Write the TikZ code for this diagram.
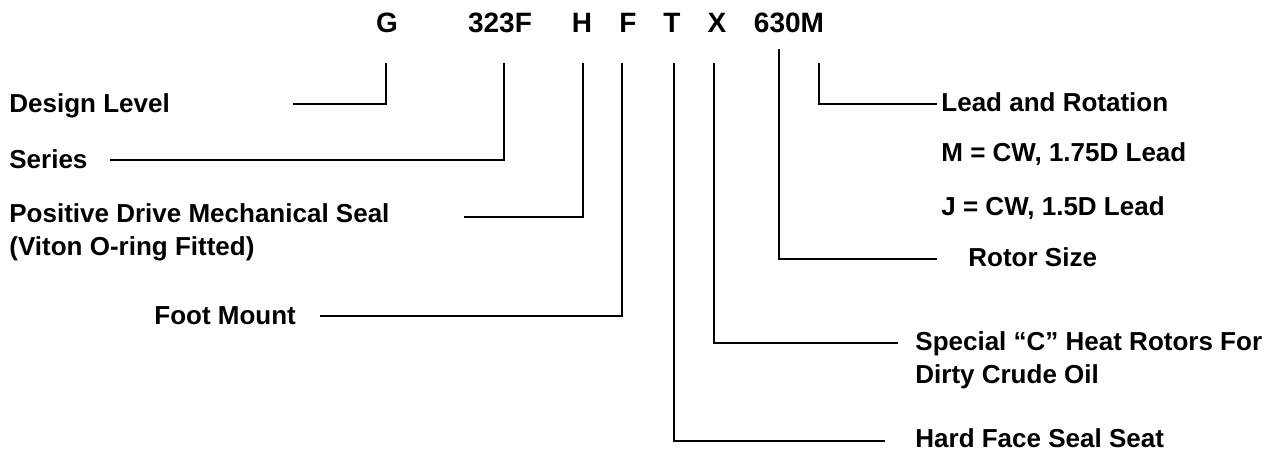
\documentclass[tikz,border=0pt]{standalone}
\usepackage{fontspec}
\setmainfont{Liberation Sans}
\begin{document}
\begin{tikzpicture}[x=0.5pt,y=-0.5pt,
  lbl/.style={anchor=base west,inner sep=0pt,font=\fontsize{13}{16.5}\selectfont\bfseries,align=left},
  code/.style={anchor=base,inner sep=0pt,font=\fontsize{14}{17}\selectfont\bfseries},
  conn/.style={line width=0.9pt,line join=miter}]
\useasboundingbox (0,0) rectangle (1273,453);
% code letters
\node[code] (cG) at (387,33) {G};
\node[code] (c323F) at (500,33) {323F};
\node[code] (cH) at (582,33) {H};
\node[code] (cF) at (628,33) {F};
\node[code] (cT) at (672,33) {T};
\node[code] (cX) at (717,33) {X};
\node[code] (c630M) at (789,33) {630M};
% labels (multi-line nodes: base = last line's baseline)
\node[lbl] (dl) at (9,113) {Design Level};
\node[lbl] (se) at (9,169) {Series};
\node[lbl] (pd) at (9,256) {Positive Drive Mechanical Seal\\(Viton O-ring Fitted)};
\node[lbl] (fm) at (154,325) {Foot Mount};
\node[lbl] (lr) at (941,112) {Lead and Rotation};
\node[lbl] (mcw) at (941,162) {M = CW, 1.75D Lead};
\node[lbl] (jcw) at (941,216) {J = CW, 1.5D Lead};
\node[lbl] (rs) at (968,267) {Rotor Size};
\node[lbl] (sp) at (915,384) {Special “C” Heat Rotors For\\Dirty Crude Oil};
\node[lbl] (hf) at (915,448) {Hard Face Seal Seat};
% connector ends
\coordinate (gS) at (386,63);   \coordinate (gE) at (293,104);
\coordinate (sS) at (504,63);   \coordinate (sE) at (110,160);
\coordinate (hS) at (583,63);   \coordinate (hE) at (464,217);
\coordinate (fS) at (622,63);   \coordinate (fE) at (320,316);
\coordinate (tS) at (674,63);   \coordinate (tE) at (885,441);
\coordinate (xS) at (714,63);   \coordinate (xE) at (898,343);
\coordinate (rS) at (779,49);   \coordinate (rE) at (937,259);
\coordinate (mS) at (819,63);   \coordinate (mE) at (937,104);
\draw[conn] (gS) |- (gE);
\draw[conn] (sS) |- (sE);
\draw[conn] (hS) |- (hE);
\draw[conn] (fS) |- (fE);
\draw[conn] (tS) |- (tE);
\draw[conn] (xS) |- (xE);
\draw[conn] (rS) |- (rE);
\draw[conn] (mS) |- (mE);
\end{tikzpicture}
\end{document}
